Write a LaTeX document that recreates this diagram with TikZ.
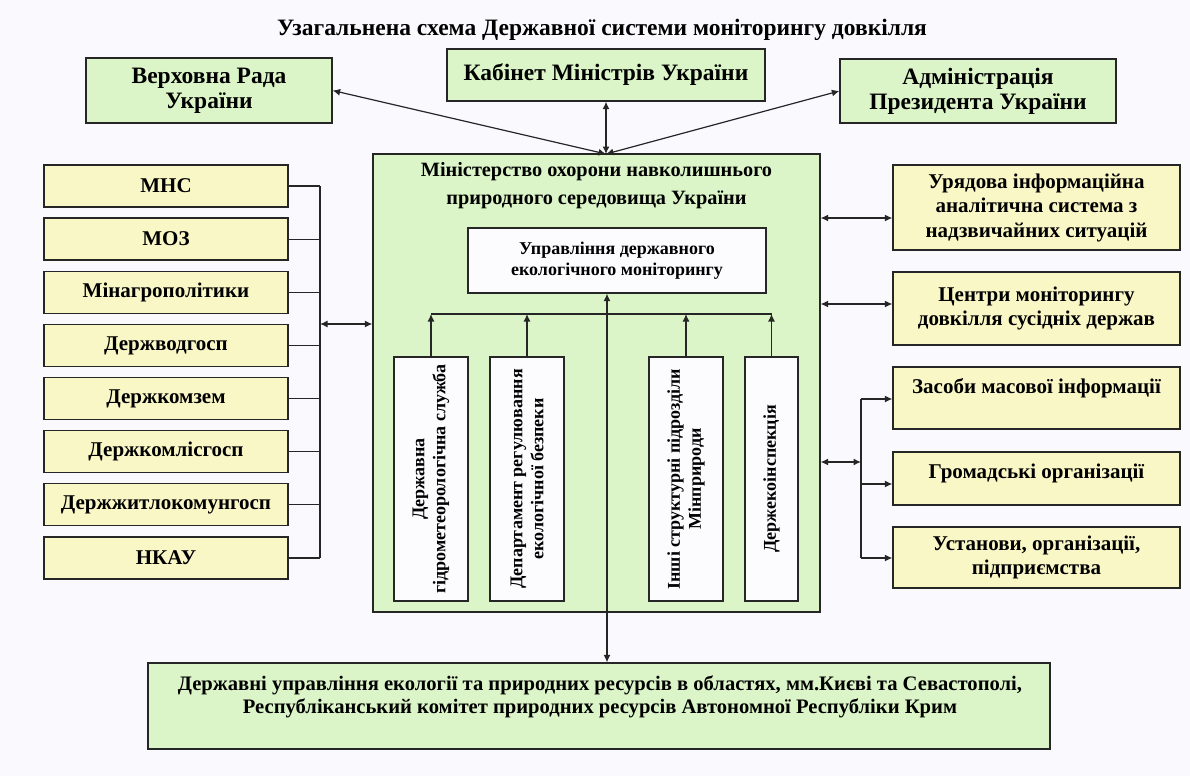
\documentclass[tikz,border=0pt]{standalone}
\usepackage{fontspec}
\setmainfont{Liberation Serif}
\usetikzlibrary{arrows.meta,calc}
\definecolor{bgc}{HTML}{FAF9FD}
\definecolor{grn}{HTML}{DCF5C8}
\definecolor{ylw}{HTML}{FAF7C6}
\definecolor{wht}{HTML}{FCFBFE}
\begin{document}
\begin{tikzpicture}[x=1pt,y=-1pt,
  box/.style={draw=black!85, line width=1.3pt, inner sep=0pt, align=center},
  gbox/.style={box, fill=grn},
  ybox/.style={box, fill=ylw},
  wbox/.style={box, fill=wht},
  huge/.style={font=\bfseries\fontsize{23.5}{25}\selectfont},
  big/.style={font=\bfseries\fontsize{21}{24.5}\selectfont},
  small/.style={font=\bfseries\fontsize{18}{21}\selectfont},
  conn/.style={line width=1.2pt, draw=black!85},
  arr/.style={conn, {Latex[length=7.5pt,width=7pt]}-{Latex[length=7.5pt,width=7pt]}},
  sarr/.style={conn, -{Latex[length=7.5pt,width=7pt]}}]
\useasboundingbox[fill=bgc] (0,0) rectangle (1190,776);

\node[huge] (title) at (602,30) {Узагальнена схема Державної системи моніторингу довкілля};

% top boxes
\node[gbox, huge, minimum width=246, minimum height=65] (vr) at (209,90.5) {Верховна Рада\\України};
\node[gbox, huge, minimum width=318, minimum height=52] (km) at (606,75) {Кабінет Міністрів України};
\node[gbox, huge, minimum width=276, minimum height=64] (ap) at (978,91) {Адміністрація\\Президента України};

% ministry
\node[gbox, minimum width=447, minimum height=458] (mn) at (596.5,383) {};
\node[font=\bfseries\fontsize{20.3}{28}\selectfont, align=center] (mnt) at (596.5,186) {Міністерство охорони навколишнього\\природного середовища України};
\node[wbox, small, minimum width=298, minimum height=65] (ud) at (617,260.5) {Управління державного\\екологічного моніторингу};
\coordinate (top) at (606,154);
\draw[arr] (km.south) -- (top);
\draw[arr] (vr.east) -- (top);
\draw[arr] (ap.west) -- (top);

% vertical boxes
\node[wbox, small, rotate=90, minimum width=244, minimum height=74] (v1) at (431,479) {Державна\\гідрометеорологічна служба};
\node[wbox, small, rotate=90, minimum width=244, minimum height=74] (v2) at (527,479) {Департамент регулювання\\екологічної безпеки};
\node[wbox, small, rotate=90, minimum width=244, minimum height=74] (v3) at (686,479) {Інші структурні підрозділи\\Мінприроди};
\node[wbox, small, rotate=90, minimum width=244, minimum height=53] (v4) at (771.5,479) {Держекоінспекція};
\coordinate (bus) at (0,314);
\draw[conn] (v1.east |- bus) -- (v4.east |- bus);
\foreach \v in {v1,v2,v3,v4} {\draw[sarr] (\v.east) -- (\v.east |- bus);}

% bottom box
\node[gbox, minimum width=902, minimum height=86] (bt) at (599,706) {};
\node[font=\bfseries\fontsize{20.6}{23}\selectfont, align=center] (btt) at (600,696.5) {Державні управління екології та природних ресурсів в областях, мм.Києві та Севастополі,\\Республіканський комітет природних ресурсів Автономної Республіки Крим};
\coordinate (cx) at (607,0);
\draw[arr] (ud.south -| cx) -- (bt.north -| cx);

% left boxes
\coordinate (lb) at (320,0);
\foreach \t [count=\i] in {МНС,МОЗ,Мінагрополітики,Держводгосп,Держкомзем,Держкомлісгосп,Держжитлокомунгосп,НКАУ} {
  \node[ybox, big, minimum width=244, minimum height=42] (L\i) at (166,{186+53.14*(\i-1)}) {\t};
  \draw[conn] (L\i.east) -- (L\i.east -| lb);
}
\draw[conn] (L1.east -| lb) -- (L8.east -| lb);
\coordinate (la) at (320,324);
\draw[arr] (la) -- (la -| mn.west);

% right boxes
\node[ybox, big, minimum width=287, minimum height=85] (r1) at (1036.5,207.5) {Урядова інформаційна\\аналітична система з\\надзвичайних ситуацій};
\node[ybox, big, minimum width=287, minimum height=73] (r2) at (1036.5,308.5) {Центри моніторингу\\довкілля сусідніх держав};
\node[ybox, minimum width=287, minimum height=62] (r3) at (1036.5,398) {};
\node[big] at (1036.5,388) {Засоби масової інформації};
\node[ybox, minimum width=287, minimum height=53] (r4) at (1036.5,478.5) {};
\node[big] at (1036.5,473) {Громадські організації};
\node[ybox, big, minimum width=287, minimum height=61] (r5) at (1036.5,557.5) {Установи, організації,\\підприємства};
\coordinate (a1) at (0,218);
\coordinate (a2) at (0,304);
\draw[arr] (mn.east |- a1) -- (r1.west |- a1);
\draw[arr] (mn.east |- a2) -- (r2.west |- a2);
\coordinate (rb) at (861,0);
\coordinate (b3) at (0,399);
\coordinate (b4) at (0,484);
\coordinate (b5) at (0,558);
\draw[conn] (rb |- b3) -- (rb |- b5);
\draw[sarr] (rb |- b3) -- (r3.west |- b3);
\draw[sarr] (rb |- b4) -- (r4.west |- b4);
\draw[sarr] (rb |- b5) -- (r5.west |- b5);
\coordinate (b0) at (0,462);
\draw[arr] (mn.east |- b0) -- (rb |- b0);
\end{tikzpicture}
\end{document}
